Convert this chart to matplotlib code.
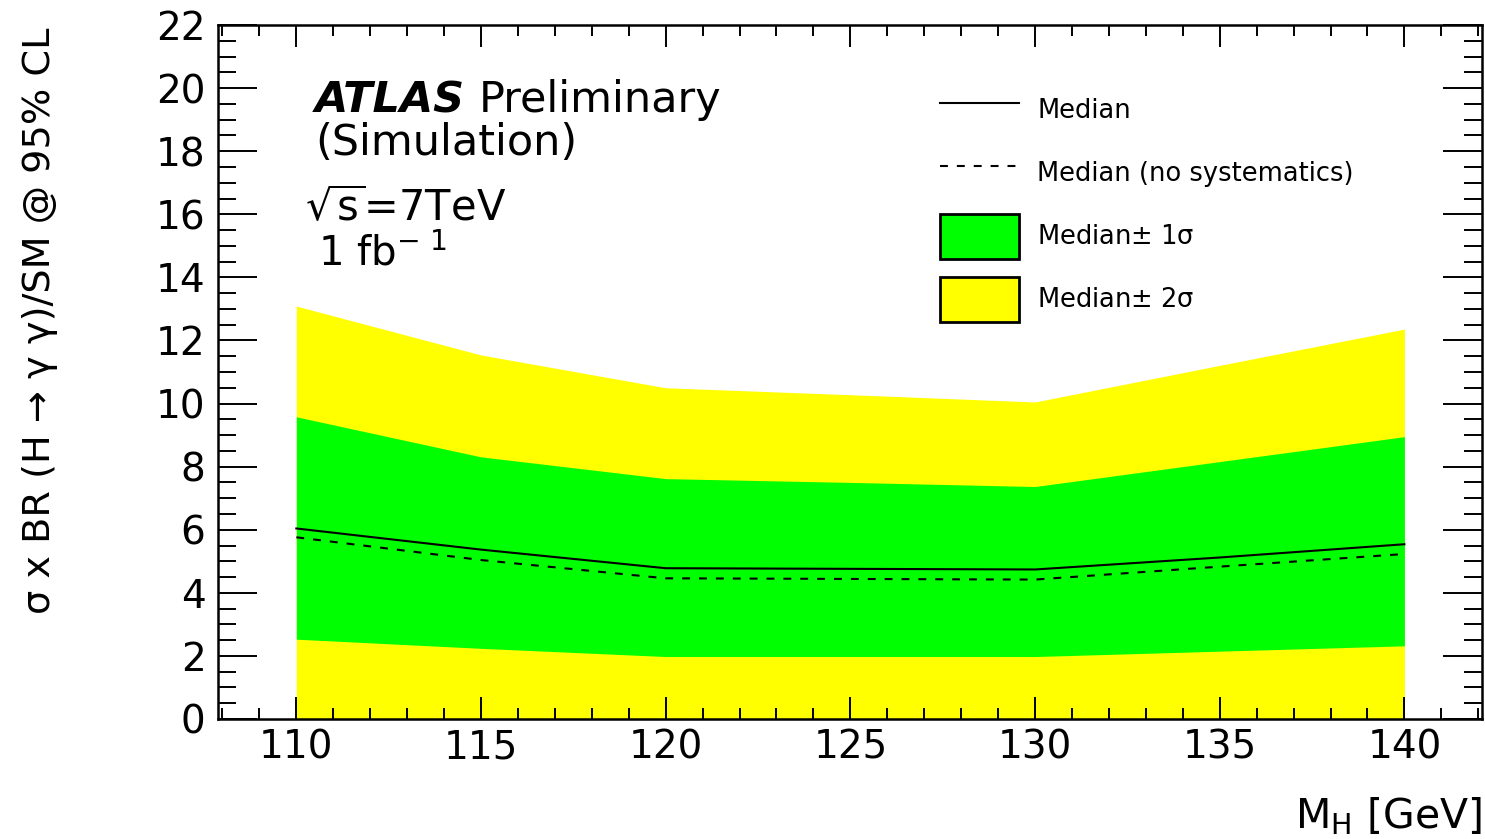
import matplotlib
matplotlib.use("Agg")
import matplotlib.pyplot as plt
from matplotlib.lines import Line2D
from matplotlib.patches import Patch
from matplotlib.ticker import MultipleLocator

plt.rcParams['font.family'] = ['DejaVu Sans']
plt.rcParams['mathtext.fontset'] = 'dejavusans'

# expected limit bands
mass = [110, 115, 120, 125, 130, 135, 140]
median = [6.04, 5.37, 4.78, 4.76, 4.74, 5.12, 5.54]
median_nosys = [5.76, 5.04, 4.46, 4.44, 4.42, 4.83, 5.23]
plus1 = [9.58, 8.31, 7.62, 7.50, 7.37, 8.16, 8.95]
minus1 = [2.53, 2.24, 1.98, 1.98, 1.98, 2.15, 2.32]
plus2 = [13.09, 11.54, 10.50, 10.28, 10.05, 11.21, 12.36]
minus2 = [0, 0, 0, 0, 0, 0, 0]

GREEN = "#00ff00"
YELLOW = "#ffff00"

fig = plt.figure(figsize=(14.85, 8.39), dpi=100)
ax = fig.add_axes([218 / 1485, 1 - 719 / 839, 1264 / 1485, 694 / 839])

ax.fill_between(mass, minus2, plus2, color=YELLOW, lw=0)
ax.fill_between(mass, minus1, plus1, color=GREEN, lw=0)
ax.plot(mass, median, color="black", lw=1.5)
ax.plot(mass, median_nosys, color="black", lw=1.5, dashes=(3.8, 4.3))

ax.set_xlim(107.88, 142.1)
ax.set_ylim(0, 22)
ax.xaxis.set_major_locator(MultipleLocator(5))
ax.xaxis.set_minor_locator(MultipleLocator(1))
ax.yaxis.set_major_locator(MultipleLocator(2))
ax.yaxis.set_minor_locator(MultipleLocator(0.5))

ax.tick_params(which="both", direction="in", top=True, right=True, width=1.4, labelsize=28)
ax.tick_params(axis="x", which="major", length=15.8, pad=7)
ax.tick_params(axis="x", which="minor", length=7.9)
ax.tick_params(axis="y", which="major", length=28, pad=9)
ax.tick_params(axis="y", which="minor", length=13)
for sp in ax.spines.values():
    sp.set_linewidth(1.8)

# axis titles, ROOT style
fig.text(40 / 1485, 1 - 28 / 839, "σ x BR (H → γ γ)/SM @ 95% CL", rotation=90,
         ha="center", va="top", fontsize=27.5)
fig.text(1482 / 1485, 1 - 828 / 839, r"M$_{\mathrm{H}}$ [GeV]", ha="right", va="baseline", fontsize=29.5)

# labels
atlas = ax.text(0.0767, 0.8746, "ATLAS", transform=ax.transAxes, fontsize=31,
                fontweight="bold", fontstyle="italic", va="baseline")
fig.canvas.draw()
bb = atlas.get_window_extent()
x_prel = ax.transAxes.inverted().transform((bb.x1 + 14, 0))[0]
ax.text(x_prel, 0.8746, "Preliminary", transform=ax.transAxes, fontsize=31, va="baseline")
ax.text(0.0767, 0.8127, "(Simulation)", transform=ax.transAxes, fontsize=31, va="baseline")
ax.text(0.0688, 0.7176, r"$\sqrt{\mathrm{s}}$=7TeV", transform=ax.transAxes, fontsize=30, va="baseline")
ax.text(0.0791, 0.654, r"1 fb$^{\mathrm{-\ 1}}$", transform=ax.transAxes, fontsize=29, va="baseline")

handles = [
    Line2D([], [], color="black", lw=1.5),
    Line2D([], [], color="black", lw=1.5, dashes=(3.8, 4.3)),
    Patch(facecolor=GREEN, edgecolor="black", lw=2),
    Patch(facecolor=YELLOW, edgecolor="black", lw=2),
]
labels = ["Median", "Median (no systematics)", "Median$\\pm$ 1σ", "Median$\\pm$ 2σ"]
ax.legend(handles, labels, loc="upper left", bbox_to_anchor=(0.571, 0.91), frameon=False,
          fontsize=18.5, borderpad=0, borderaxespad=0, handlelength=3.1, handleheight=2.32,
          labelspacing=0.7, handletextpad=0.7)

fig.savefig("out.png", dpi=100)
